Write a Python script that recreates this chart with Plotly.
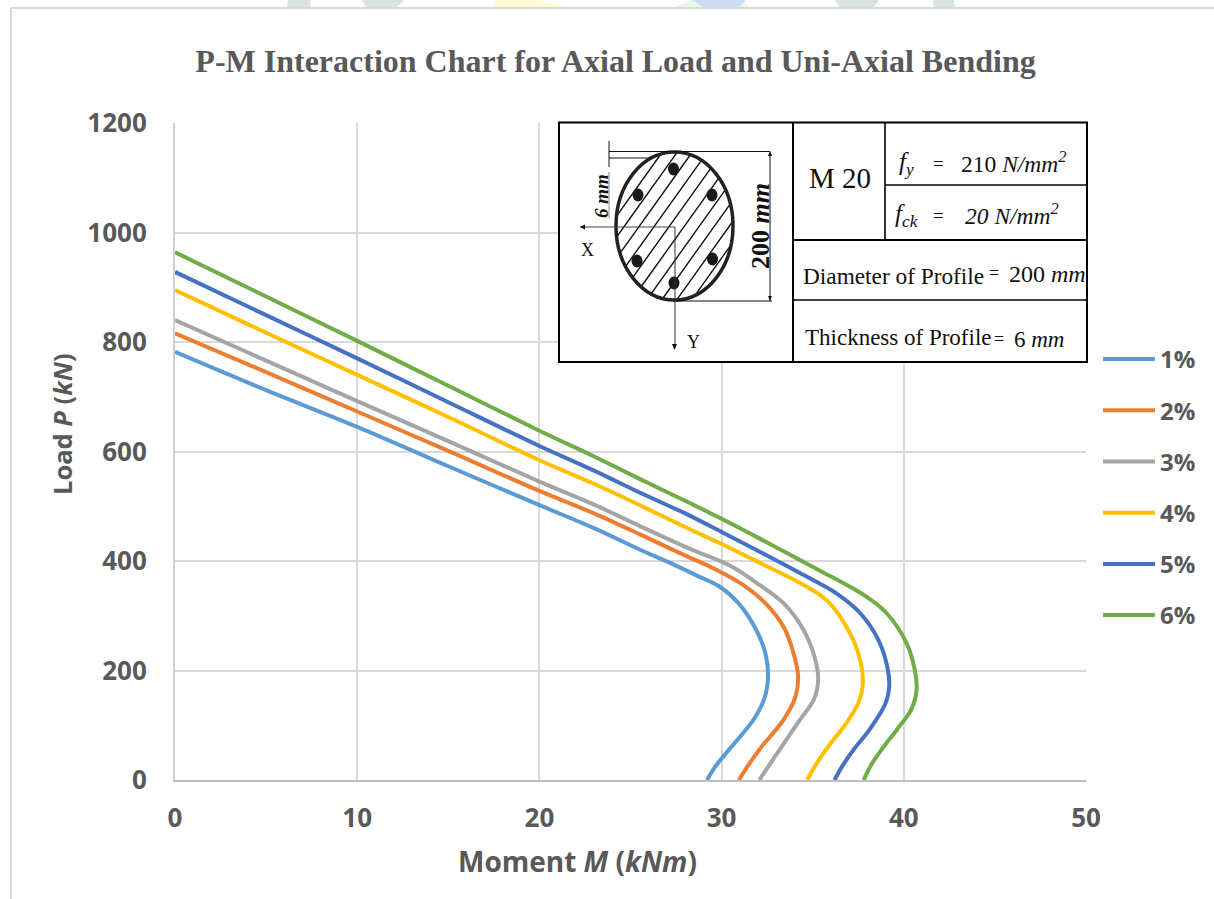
import math
import plotly.graph_objects as go

names = ["1%", "2%", "3%", "4%", "5%", "6%"]
colors = ["#5B9BD5", "#ED7D31", "#A5A5A5", "#FFC000", "#4472C4", "#70AD47"]

m1 = [0, 5, 10, 15, 20, 23, 25.5, 27.4, 28.8, 29.9, 31.0, 31.9, 32.4, 32.55, 32.35, 31.75, 30.55, 29.64, 29.2]
p1 = [782, 712, 645, 573, 502, 460, 421, 393, 371, 353, 320, 274, 232, 189, 149, 110, 61, 24, 0]
m2 = [0, 5, 10, 15, 20, 23, 25.5, 27.8, 29.6, 31.2, 32.4, 33.4, 33.9, 34.2, 34.05, 33.4, 32.2, 31.4, 30.95]
p2 = [816, 745, 673, 601, 528, 487, 449, 413, 386, 356, 323, 280, 237, 189, 152, 110, 61, 24, 0]
m3 = [0, 5, 10, 15, 20, 23, 25.5, 28.2, 30.55, 32.1, 33.4, 34.5, 35.1, 35.3, 35.05, 34.3, 33.3, 32.55, 32.07]
p3 = [840, 766, 692, 619, 545, 503, 464, 423, 390, 356, 323, 274, 225, 183, 146, 110, 61, 24, 0]
m4 = [0, 5, 10, 15, 20, 23, 25.5, 28, 30, 32.2, 34.3, 35.75, 36.85, 37.5, 37.75, 37.5, 36.85, 35.85, 35.1, 34.7]
p4 = [895, 817, 740, 663, 584, 541, 502, 462, 431, 395, 360, 329, 280, 232, 177, 140, 104, 61, 24, 0]
m5 = [0, 5, 10, 15, 20, 23, 25.5, 28, 30, 32.2, 34.3, 36.3, 37.6, 38.6, 39.1, 39.2, 39.0, 38.1, 37.3, 36.6, 36.2]
p5 = [928, 849, 770, 690, 610, 565, 525, 487, 453, 415, 378, 341, 305, 256, 206, 170, 140, 91, 58, 24, 0]
m6 = [0, 5, 10, 15, 20, 23, 25.5, 28, 30, 32.6, 35.3, 37.8, 39.05, 40.15, 40.6, 40.7, 40.4, 39.6, 38.9, 38.25, 37.8]
p6 = [964, 883, 802, 720, 638, 591, 550, 510, 477, 432, 384, 338, 305, 250, 201, 164, 128, 91, 61, 30, 0]
series_m = [m1, m2, m3, m4, m5, m6]
series_p = [p1, p2, p3, p4, p5, p6]

x_ticks = [0, 10, 20, 30, 40, 50]
y_ticks = [0, 200, 400, 600, 800, 1000, 1200]

W, H = 1214, 899
L, R, T, B = 175, 1086, 123, 780
px = lambda x: (x - L) / (R - L)
py = lambda y: (B - y) / (B - T)

fig = go.Figure()
for n, c, mv, pv in zip(names, colors, series_m, series_p):
    fig.add_trace(go.Scatter(x=mv, y=pv, mode="lines", name=n, legendgroup=n,
                             line=dict(color=c, width=4, shape="spline", smoothing=0.9),
                             cliponaxis=False))

shapes, notes = [], []

def line(x0, y0, x1, y1, w=1.0, color="#111111", layer="above"):
    shapes.append(dict(type="line", xref="paper", yref="paper", x0=px(x0), y0=py(y0),
                       x1=px(x1), y1=py(y1), line=dict(color=color, width=w), layer=layer))

def rect(x0, y0, x1, y1, fill, lw=0, lc="#000000", layer="above"):
    shapes.append(dict(type="rect", xref="paper", yref="paper", x0=px(x0), y0=py(y0),
                       x1=px(x1), y1=py(y1), fillcolor=fill,
                       line=dict(color=lc, width=lw), layer=layer))

def circle(cx, cy, rx, ry, fill, lw=0, lc="#000000"):
    shapes.append(dict(type="circle", xref="paper", yref="paper", x0=px(cx - rx), y0=py(cy - ry),
                       x1=px(cx + rx), y1=py(cy + ry), fillcolor=fill,
                       line=dict(color=lc, width=lw), layer="above"))

def poly(pts, fill="#111111", layer="above"):
    path = "M " + " L ".join(f"{px(a)} {py(b)}" for a, b in pts) + " Z"
    shapes.append(dict(type="path", xref="paper", yref="paper", path=path, fillcolor=fill,
                       line=dict(width=0), layer=layer))

def text(x, y, s, size=20, anchor="center", angle=0, color="#111111", family="Liberation Serif"):
    notes.append(dict(xref="paper", yref="paper", x=px(x), y=py(y), text=s, showarrow=False,
                      xanchor=anchor, yanchor="middle", textangle=angle,
                      font=dict(family=family, size=size, color=color)))

# faint background fragments above the chart frame
poly([(288, 0), (310, 0), (311, 8), (287, 8)], "#DAE2E4", "below")
poly([(362, 0), (404, 0), (396, 8), (367, 8)], "#DAE2E4", "below")
poly([(496, 0), (537, 0), (570, 8), (492, 8)], "#FFFBD5", "below")
poly([(692, 0), (741, 0), (751, 8), (672, 8)], "#E4F9E4", "below")
poly([(692, 0), (746, 0), (738, 8), (705, 8)], "#D0DCF5", "below")
poly([(835, 0), (879, 0), (873, 8), (840, 8)], "#DAE2E4", "below")
poly([(933, 0), (954, 0), (955, 8), (934, 8)], "#DAE2E4", "below")

# page frame
line(11, 8, 1214, 8, 2, "#D9D9D9", "below")
line(11, 8, 11, 899, 2, "#D9D9D9", "below")

# inset
rect(559, 122.5, 1087, 362, "#FFFFFF", 2, "#000000")
line(793, 122.5, 793, 362, 2, "#000000")
line(885, 122.5, 885, 240, 1.6, "#000000")
line(885, 185, 1087, 185, 1.6, "#000000")
line(793, 240, 1087, 240, 2, "#000000")
line(793, 300, 1087, 300, 1.6, "#000000")

cx, cy, rx, ry = 674.5, 226, 58.5, 74
slope = 1.4
for c0 in range(-110, 111, 15):
    a = 1 / rx ** 2 + slope ** 2 / ry ** 2
    b = -2 * slope ** 2 * c0 / ry ** 2
    d = slope ** 2 * c0 ** 2 / ry ** 2 - 1
    disc = b * b - 4 * a * d
    if disc <= 0:
        continue
    xa = (-b - math.sqrt(disc)) / (2 * a)
    xb = (-b + math.sqrt(disc)) / (2 * a)
    line(cx + xa, cy - slope * (xa - c0), cx + xb, cy - slope * (xb - c0), 1.4)
circle(cx, cy, rx, ry, "rgba(0,0,0,0)", 3.5, "#222222")
for dx, dy in [(673.5, 169), (638, 195), (712, 195), (637, 261), (712.5, 259), (674, 283)]:
    circle(dx, dy, 5.5, 6.5, "#1A1A1A")

line(609, 151.5, 770, 151.5, 1)
line(609, 158, 652, 158, 1)
line(609, 141, 609, 167, 1)
line(609, 172, 609, 218, 0.7, "#555555")
line(674, 301, 772, 301, 1)
line(770, 151.5, 770, 301, 1)
line(580, 227, 675, 227, 1, "#444444")
line(675, 227, 675, 348, 1, "#333333")
poly([(580, 227), (585, 224.5), (585, 229.5)])
poly([(674.5, 350), (672, 344), (677, 344)])
poly([(770, 151), (768, 156), (772, 156)])
poly([(770, 301), (768, 296), (772, 296)])
text(587, 250, "X", 18)
text(693, 342, "Y", 18)
text(601, 196, "<b><i>6 mm</i></b>", 19, angle=-90)
text(760, 226, "<b>200 <i>mm</i></b>", 26, angle=-90)
text(840, 178, "M 20", 29)
text(897, 163, "<i>f<sub>y</sub></i>", 25, "left")
text(938, 163, "=", 19)
text(959, 162, "210 <i>N/mm<sup>2</sup></i>", 23.5, "left")
text(893, 215, "<i>f<sub>ck</sub></i>", 25, "left")
text(938, 215, "=", 19)
text(963, 214, "<i>20 N/mm<sup>2</sup></i>", 23.5, "left")
text(801, 276, "Diameter of Profile", 23.3, "left")
text(994, 273, "=", 18)
text(1007, 274, "200 <i>mm</i>", 24, "left")
text(803, 337, "Thickness of Profile", 23, "left")
text(999, 339, "=", 18)
text(1012, 339, "6 <i>mm</i>", 23, "left")

# axis titles
text(577, 861, "<b>Moment <i>M</i> (<i>kNm</i>)</b>", 28, color="#595959", family="Open Sans")
text(62, 424, "<b>Load <i>P</i> (<i>kN</i>)</b>", 25.5, angle=-90, color="#595959", family="Open Sans")

tickfont = dict(family="Open Sans", size=26, color="#595959", weight="bold")
fig.update_layout(
    width=W, height=H, autosize=False,
    margin=dict(l=L, r=W - R, t=T, b=H - B, pad=0, autoexpand=False),
    paper_bgcolor="#FFFFFF", plot_bgcolor="#FFFFFF",
    title=dict(text="<b>P-M Interaction Chart for Axial Load and Uni-Axial Bending</b>",
               x=615.5 / W, xanchor="center", y=1 - 61 / H, yanchor="middle",
               font=dict(family="Liberation Serif", size=32, color="#595959")),
    xaxis=dict(range=[0, 50], tickvals=x_ticks, showgrid=True, gridcolor="#D9D9D9", gridwidth=2,
               zeroline=False, showline=True, linecolor="#BFBFBF", linewidth=2, ticks="",
               ticklabelstandoff=14, automargin=False, tickfont=tickfont),
    yaxis=dict(range=[0, 1200], tickvals=y_ticks, showgrid=True, gridcolor="#D9D9D9", gridwidth=2,
               zeroline=False, showline=True, linecolor="#D0D0D0", linewidth=2, ticks="",
               ticklabelstandoff=21, automargin=False, tickfont=tickfont),
    legend=dict(x=px(1098), y=py(337), xanchor="left", yanchor="top",
                itemwidth=52, tracegroupgap=17, bgcolor="rgba(0,0,0,0)",
                font=dict(family="Open Sans", size=24, color="#595959", weight="bold")),
    shapes=shapes, annotations=notes,
)
fig.write_html("out.html", post_script="document.body.style.margin='0';",
               config=dict(displayModeBar=False))
